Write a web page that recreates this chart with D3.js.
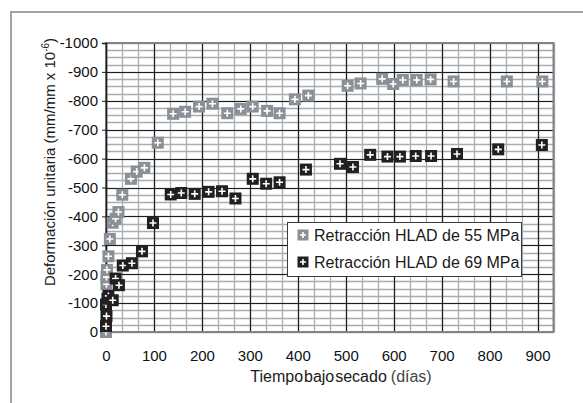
<!DOCTYPE html>
<html>
<head>
<meta charset="utf-8">
<script src="https://cdn.jsdelivr.net/npm/d3@7"></script>
<style>
  body { margin: 0; background: #fff; }
  svg { font-family: "Liberation Sans", Arial, sans-serif; }
</style>
</head>
<body>
<div id="chart"></div>
<script>
// shrinkage data, [days, strain magnitude]
const serie55 = [
    [0, 0], [1, 165], [1, 190], [2, 215], [5, 262], [8, 322], [14, 378], [20, 392],
    [26, 415], [34, 475], [52, 530], [64, 555], [80, 568], [108, 655], [140, 755],
    [165, 762], [194, 780], [222, 790], [253, 757], [281, 772], [306, 780], [336, 765],
    [362, 757], [394, 805], [422, 818], [504, 852], [531, 860], [576, 876], [599, 858],
    [619, 872], [648, 872], [677, 874], [725, 867], [836, 867], [910, 867]
];
const serie69 = [
    [0, 20], [1, 55], [0, 95], [3, 115], [5, 125], [14, 110], [20, 185], [27, 162],
    [35, 230], [54, 238], [75, 279], [98, 377], [135, 476], [157, 481], [185, 478],
    [214, 485], [242, 487], [270, 462], [306, 530], [334, 513], [362, 518], [417, 562],
    [488, 582], [515, 571], [551, 613], [587, 607], [613, 607], [646, 609], [678, 609],
    [732, 616], [818, 632], [909, 647]
];
const seriesNames = ["Retracción HLAD de 55 MPa", "Retracción HLAD de 69 MPa"];
const seriesColors = ["#8a9096", "#231f20"];
const xTicks = [0, 100, 200, 300, 400, 500, 600, 700, 800, 900];
const yTicks = [0, 100, 200, 300, 400, 500, 600, 700, 800, 900, 1000];

const W = 583, H = 403;
const FONT = "'Liberation Sans', Arial, sans-serif";

const svg = d3.select("#chart").append("svg")
    .attr("width", W)
    .attr("height", H);

// outer frame (runs off the right and bottom edge)
svg.append("rect")
    .attr("x", 11).attr("y", 12)
    .attr("width", 600).attr("height", 420)
    .attr("fill", "none")
    .attr("stroke", "#a3a3a3")
    .attr("stroke-width", 2);

const xScale = d3.scaleLinear().domain([0, 933.3]).range([106, 553.5]);
const yScale = d3.scaleLinear().domain([0, 1000]).range([332, 43]);

const chart = svg.append("g");

// minor grid
const xMinor = d3.range(0, 934, 100 / 3);
const yMinor = d3.range(0, 1001, 25);
chart.append("g").selectAll("line").data(xMinor).join("line")
    .attr("x1", d => Math.round(xScale(d)) + 0.5).attr("x2", d => Math.round(xScale(d)) + 0.5)
    .attr("y1", yScale(0)).attr("y2", yScale(1000))
    .attr("stroke", "#a9adb0").attr("stroke-width", 1.3);
chart.append("g").selectAll("line").data(yMinor).join("line")
    .attr("x1", xScale(0)).attr("x2", xScale(933.3))
    .attr("y1", d => Math.round(yScale(d)) + 0.5).attr("y2", d => Math.round(yScale(d)) + 0.5)
    .attr("stroke", "#a9adb0").attr("stroke-width", 1.3);

// major grid
chart.append("g").selectAll("line").data(xTicks).join("line")
    .attr("x1", d => Math.round(xScale(d)) + 0.5).attr("x2", d => Math.round(xScale(d)) + 0.5)
    .attr("y1", yScale(0)).attr("y2", yScale(1000))
    .attr("stroke", "#1e1e1e").attr("stroke-width", 1.2);
chart.append("g").selectAll("line").data(yTicks).join("line")
    .attr("x1", xScale(0)).attr("x2", xScale(933.3))
    .attr("y1", d => Math.round(yScale(d)) + 0.5).attr("y2", d => Math.round(yScale(d)) + 0.5)
    .attr("stroke", "#1e1e1e").attr("stroke-width", 1.2);

// plot border
chart.append("rect")
    .attr("x", xScale(0)).attr("y", yScale(1000))
    .attr("width", xScale(933.3) - xScale(0))
    .attr("height", yScale(0) - yScale(1000))
    .attr("fill", "none")
    .attr("stroke", "#808488")
    .attr("stroke-width", 2);

// axes
const yAxis = d3.axisLeft(yScale).tickValues(yTicks).tickSize(4).tickPadding(4)
    .tickFormat(d => d === 0 ? "0" : "-" + d);
const xAxis = d3.axisBottom(xScale).tickValues(xTicks).tickSize(0).tickPadding(18);

const yAxisG = svg.append("g")
    .attr("transform", `translate(${xScale(0)},0)`)
    .call(yAxis);
const xAxisG = svg.append("g")
    .attr("transform", `translate(0,${yScale(0)})`)
    .call(xAxis);

[yAxisG, xAxisG].forEach(g => {
    g.attr("font-family", FONT).attr("font-size", 15);
    g.selectAll("text").attr("fill", "#111");
    g.select(".domain").attr("stroke", "#1e1e1e").attr("stroke-width", 1.5);
    g.selectAll(".tick line").attr("stroke", "#1e1e1e");
});
xAxisG.select(".domain").remove();

// axis titles
svg.append("text")
    .attr("transform", `translate(55,162) rotate(-90)`)
    .attr("text-anchor", "middle")
    .attr("font-size", 15)
    .attr("fill", "#1a1a1a")
    .html('Deformación unitaria (mm/mm x 10<tspan dy="-6" font-size="10">-6</tspan><tspan dy="6">)</tspan>');

const xt = svg.append("text")
    .attr("x", 341).attr("y", 382)
    .attr("text-anchor", "middle")
    .attr("font-size", 16)
    .attr("fill", "#1a1a1a");
xt.append("tspan").attr("word-spacing", "-3.5px").text("Tiempo bajo secado");
xt.append("tspan").attr("dx", 4).attr("fill", "#444").text("(días)");

// markers
function drawMarker(sel, size, color) {
    const h = size / 2;
    sel.append("rect")
        .attr("x", -h).attr("y", -h)
        .attr("width", size).attr("height", size)
        .attr("fill", color);
    sel.append("path")
        .attr("d", `M${-h + 2.5},0H${h - 2.5}M0,${-h + 2.5}V${h - 2.5}`)
        .attr("stroke", "#fff")
        .attr("stroke-width", 1.6);
}

[serie55, serie69].forEach((data, i) => {
    svg.append("g").selectAll("g").data(data).join("g")
        .attr("transform", d => `translate(${xScale(d[0])},${yScale(d[1])})`)
        .each(function() { drawMarker(d3.select(this), 12, seriesColors[i]); });
});

// legend
const legend = svg.append("g");
legend.append("rect")
    .attr("x", 287.5).attr("y", 222.5)
    .attr("width", 234).attr("height", 54)
    .attr("fill", "#fff")
    .attr("stroke", "#3a3a3a")
    .attr("stroke-width", 1);
seriesNames.forEach((name, i) => {
    const yy = 235 + i * 27;
    const m = legend.append("g").attr("transform", `translate(303,${yy})`);
    drawMarker(m, 11, seriesColors[i]);
    legend.append("text")
        .attr("x", 314).attr("y", yy + 6)
        .attr("font-size", 16)
        .attr("fill", "#1a1a1a")
        .text(name);
});
</script>
</body>
</html>
